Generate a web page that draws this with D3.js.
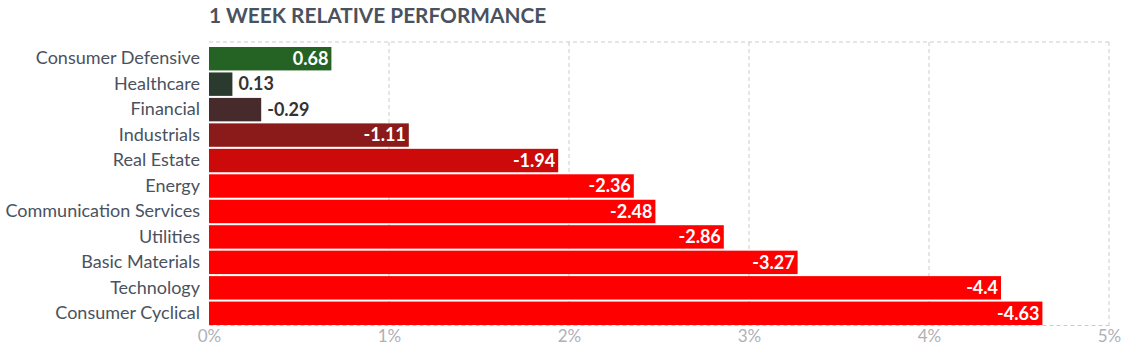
<!DOCTYPE html>
<html>
<head>
<meta charset="utf-8">
<script src="https://cdn.jsdelivr.net/npm/d3@7"></script>
<style>
  body { margin: 0; background: #fff; }
  text { font-family: Lato, "Open Sans", sans-serif; }
</style>
</head>
<body>
<div id="chart"></div>
<script>
// sectors and 1 week performance (%)
var sectors = ["Consumer Defensive", "Healthcare", "Financial", "Industrials", "Real Estate", "Energy",
  "Communication Services", "Utilities", "Basic Materials", "Technology", "Consumer Cyclical"];
var values = [0.68, 0.13, -0.29, -1.11, -1.94, -2.36, -2.48, -2.86, -3.27, -4.4, -4.63];
var barColors = ["#256325", "#2b3a2f", "#472a2b", "#8b1a1a", "#cc0a0a", "#ff0000",
  "#ff0000", "#ff0000", "#ff0000", "#ff0000", "#ff0000"];
var tickValues = [0, 1, 2, 3, 4, 5];

var W = 1129, H = 353;
var margin = {top: 42, right: 20, bottom: 28, left: 209};
var width = 1109 - margin.left, height = H - margin.top - margin.bottom;

var svg = d3.select("#chart").append("svg")
    .attr("width", W)
    .attr("height", H);

svg.append("text")
    .attr("x", 209)
    .attr("y", 23)
    .style("font-size", "20.8px")
    .style("font-weight", "bold")
    .style("fill", "#4a5260")
    .text("1 WEEK RELATIVE PERFORMANCE");

var g = svg.append("g")
    .attr("transform", `translate(${margin.left},${margin.top})`);

var x = d3.scaleLinear().domain([0, 5]).range([0, width]);
var y = d3.scaleBand().domain(sectors).range([5, height]).paddingInner(0.08).paddingOuter(0);

// grid lines
g.selectAll(".grid")
  .data(tickValues.slice(1))
  .join("line")
    .attr("x1", d => x(d)).attr("x2", d => x(d))
    .attr("y1", 0).attr("y2", height)
    .attr("stroke", "#ccc")
    .attr("stroke-dasharray", "4,3");

g.append("line")
    .attr("x1", 0).attr("x2", width)
    .attr("y1", 0).attr("y2", 0)
    .attr("stroke", "#ccc")
    .attr("stroke-dasharray", "4,3");

// x axis
var xAxis = g.append("g")
    .attr("transform", `translate(0,${height})`)
    .call(d3.axisBottom(x).tickValues(tickValues).tickFormat(d => d + "%").tickSize(0).tickPadding(5));
xAxis.select(".domain").attr("stroke", "#ccc").attr("stroke-dasharray", "4,3");
xAxis.selectAll("text").style("font-size", "17px").style("fill", "#b0b0b8").style("font-family", "Lato");

// y axis labels
var yAxis = g.append("g")
    .call(d3.axisLeft(y).tickSize(0).tickPadding(9));
yAxis.select(".domain").remove();
yAxis.selectAll("text").style("font-size", "18px").style("fill", "#4a5260").style("font-family", "Lato");

// bars
g.selectAll(".bar")
  .data(values)
  .join("rect")
    .attr("x", 0)
    .attr("y", (d, i) => y(sectors[i]))
    .attr("width", d => x(Math.abs(d)))
    .attr("height", y.bandwidth())
    .attr("fill", (d, i) => barColors[i]);

// value labels
g.selectAll(".val")
  .data(values)
  .join("text")
    .attr("x", d => x(Math.abs(d)) > 60 ? x(Math.abs(d)) - 3 : x(Math.abs(d)) + 6)
    .attr("y", (d, i) => y(sectors[i]) + y.bandwidth() / 2)
    .attr("dy", "0.35em")
    .attr("text-anchor", d => x(Math.abs(d)) > 60 ? "end" : "start")
    .style("font-size", "18px")
    .style("font-weight", "bold")
    .style("fill", d => x(Math.abs(d)) > 60 ? "#fff" : "#333")
    .text(d => d);
</script>
</body>
</html>
